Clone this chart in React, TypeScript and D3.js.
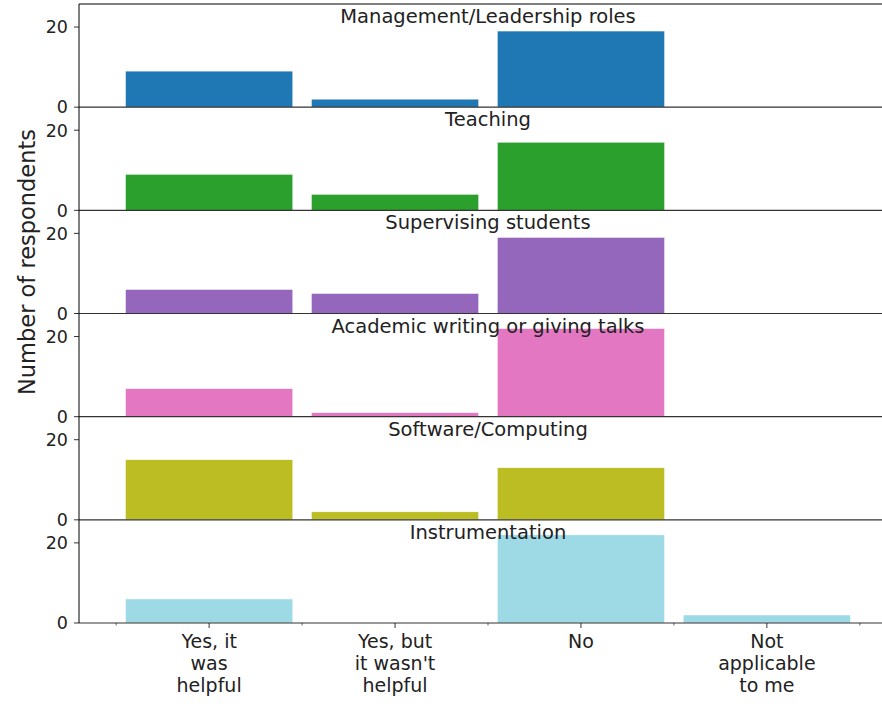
import React from 'react'
import * as d3 from 'd3'

// answers (x categories), split onto lines like the reference
const categoryLines = [
  ['Yes, it', 'was', 'helpful'],
  ['Yes, but', "it wasn't", 'helpful'],
  ['No'],
  ['Not', 'applicable', 'to me'],
]

const panelTitles = [
  'Management/Leadership roles',
  'Teaching',
  'Supervising students',
  'Academic writing or giving talks',
  'Software/Computing',
  'Instrumentation',
]

const management = [9, 2, 19, 0]
const teaching = [9, 4, 17, 0]
const supervising = [6, 5, 19, 0]
const writing = [7, 1, 22, 0]
const software = [15, 2, 13, 0]
const instrumentation = [6, 0, 22, 2]

const seriesValues = [management, teaching, supervising, writing, software, instrumentation]
const panelColors = ['#1f77b4', '#2ca02c', '#9467bd', '#e377c2', '#bcbd22', '#9edae5']
const yTicks = [0, 20]

export default function App() {
  const W = 882, H = 716
  const left = 79, right = 897, top = 4, bottom = 623
  const n = panelTitles.length
  const ph = (bottom - top) / n
  const font = 'DejaVu Sans, sans-serif'

  const x = d3.scaleLinear().domain([-0.7, 3.7]).range([left, right])
  const idx = d3.range(categoryLines.length)
  const edges = d3.range(categoryLines.length + 1).map(i => i - 0.5)

  return (
    <svg width={W} height={H} style={{ position: 'absolute', left: 0, top: 0, background: '#fff' }}
      fontFamily={font}>
      {seriesValues.map((vals, p) => {
        const y0 = top + p * ph
        const y = d3.scaleLinear().domain([0, 25.75]).range([y0 + ph, y0])
        return (
          <g key={p}>
            {vals.map((v, i) => v > 0 && (
              <rect key={i} x={x(i - 0.45)} width={x(i + 0.45) - x(i - 0.45)}
                y={y(v)} height={y(0) - y(v)} fill={panelColors[p]}
                stroke="#fff" strokeWidth={0.5} />
            ))}
            {yTicks.map(t => (
              <g key={t}>
                <line x1={left - 5} x2={left} y1={y(t)} y2={y(t)} stroke="#000" strokeWidth={0.8} />
                <text x={left - 11} y={y(t)} dy="0.36em" textAnchor="end" fontSize={17.5} fill="#222">{t}</text>
              </g>
            ))}
            <text x={(left + right) / 2} y={y0 + 19} textAnchor="middle" fontSize={19.5} fill="#222">
              {panelTitles[p]}
            </text>
            <line x1={left} x2={right} y1={y0 + ph} y2={y0 + ph} stroke="#333" strokeWidth={1.1} />
          </g>
        )
      })}
      <line x1={left} x2={right} y1={top} y2={top} stroke="#000" strokeWidth={1} />
      <line x1={left} x2={left} y1={top} y2={bottom} stroke="#000" strokeWidth={1} />
      {idx.map(i => (
        <g key={i}>
          <line x1={x(i)} x2={x(i)} y1={bottom} y2={bottom + 5} stroke="#000" strokeWidth={0.8} />
          {categoryLines[i].map((s, k) => (
            <text key={k} x={x(i)} y={bottom + 25 + k * 22} textAnchor="middle" fontSize={19} fill="#222">{s}</text>
          ))}
        </g>
      ))}
      {edges.map(e => (
        <line key={e} x1={x(e)} x2={x(e)} y1={bottom} y2={bottom + 2.5} stroke="#000" strokeWidth={0.6} />
      ))}
      <text transform={`translate(27,262) rotate(-90)`} textAnchor="middle" dy="0.35em"
        fontSize={22.5} fill="#222">Number of respondents</text>
    </svg>
  )
}
